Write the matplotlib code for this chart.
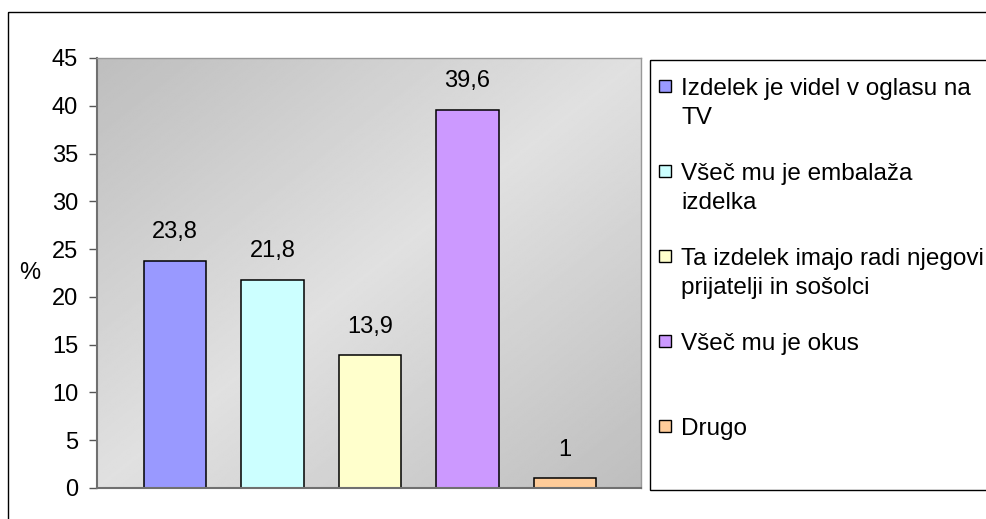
import numpy as np
import matplotlib
matplotlib.use("Agg")
import matplotlib.pyplot as plt
from matplotlib.patches import Rectangle
from matplotlib.transforms import Affine2D

# Survey answers: why the child chose this product (percent)
categories = [
    "Izdelek je videl v oglasu na\nTV",
    "Všeč mu je embalaža\nizdelka",
    "Ta izdelek imajo radi njegovi\nprijatelji in sošolci",
    "Všeč mu je okus",
    "Drugo",
]
values = [23.8, 21.8, 13.9, 39.6, 1.0]
value_labels = ["23,8", "21,8", "13,9", "39,6", "1"]
colors = ["#9999FF", "#CCFFFF", "#FFFFCC", "#CC99FF", "#FFCC99"]
yticks = [0, 5, 10, 15, 20, 25, 30, 35, 40, 45]

W, H = 987, 519
plt.rcParams["font.family"] = ["Liberation Sans", "DejaVu Sans"]
FS = 17
LFS = 17.5

fig = plt.figure(figsize=(W / 100, H / 100), dpi=100)
# pixel coordinates with origin at top-left of the figure
px = Affine2D().scale(1 / W, -1 / H).translate(0, 1) + fig.transFigure

# outer chart border (continues past the right and bottom edges)
fig.patches.append(Rectangle((8, 12), 1100, 600, transform=px, fill=False,
                             edgecolor="black", lw=1.0))

left, right, top, bottom = 97, 641, 58, 488
ax = fig.add_axes([left / W, 1 - bottom / H, (right - left) / W, (bottom - top) / H])

# diagonal gradient in the plot area: darker corners, lighter middle band
n = 300
gx, gy = np.meshgrid(np.linspace(0, 1, n), np.linspace(0, 1, n))
u = (gx + gy) / 2
shade = 0.745 + 0.135 * (1 - np.abs(2 * u - 1))
ax.imshow(shade, cmap="gray", vmin=0, vmax=1, extent=[0, 1, 0, 1],
          transform=ax.transAxes, aspect="auto", zorder=0, interpolation="bilinear")

x = np.arange(len(values))
ax.bar(x, values, width=0.636, color=colors, edgecolor="black", linewidth=1.1, zorder=2)
for xi, v, lab in zip(x, values, value_labels):
    ax.annotate(lab, (xi, v), xytext=(0, 20.5), textcoords="offset points",
                ha="center", va="center", fontsize=FS, zorder=3)

ax.set_xlim((left - 175) / 97.5, (right - 175) / 97.5)
ax.set_ylim(0, 45)
ax.set_yticks(yticks)
ax.set_yticklabels([str(t) for t in yticks])
ax.set_xticks([])
ax.tick_params(axis="y", direction="out", length=5.5, width=1.0, colors="#555555",
               labelcolor="black", labelsize=FS, pad=8)

for side in ("left", "bottom"):
    ax.spines[side].set_color("#707070")
    ax.spines[side].set_linewidth(1.5)
for side in ("top", "right"):
    ax.spines[side].set_color("#999999")
    ax.spines[side].set_linewidth(1.0)

ax.set_ylabel("%", rotation=0, fontsize=FS, va="center", ha="center")
ax.yaxis.set_label_coords((30 - left) / (right - left), 0.5)

# legend box, extending past the right edge
fig.patches.append(Rectangle((650, 60), 500, 430, transform=px, fill=False,
                             edgecolor="black", lw=1.0))
first_baselines = [95, 180, 265, 350, 435]
line_step = 29
for lab, col, b in zip(categories, colors, first_baselines):
    fig.patches.append(Rectangle((659, b - 15), 12, 12, transform=px,
                                 facecolor=col, edgecolor="black", lw=1.0))
    for k, line in enumerate(lab.split("\n")):
        fig.text(681, b + k * line_step, line, transform=px, fontsize=LFS,
                 ha="left", va="baseline")

fig.savefig("out.png", dpi=100)
